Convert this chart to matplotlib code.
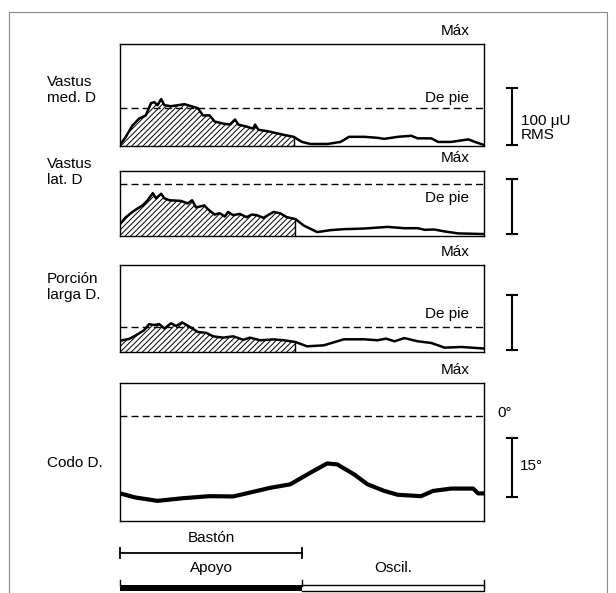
import numpy as np
import matplotlib.pyplot as plt

plt.rcParams['font.family'] = ['Liberation Sans', 'DejaVu Sans']
plt.rcParams['hatch.linewidth'] = 0.7

# Datos: % del ciclo de marcha y fraccion de la altura de cada panel
med_x = [0, 1.6, 3.4, 5.3, 7.1, 8.5, 9.4, 10.3, 11.3, 12.2, 14, 15.9, 17.7, 19.6,
         21.4, 22.8, 24.6, 26, 28.3, 30.2, 31.6, 32.5, 34.8, 36.6, 37.1, 38, 41.2,
         44.9, 47.7, 50, 52.3, 57, 60.6, 62.9, 67.1, 70.8, 72.6, 76.3, 80, 81.8,
         85.5, 87.4, 91, 95.7, 97.5, 100]
med_y = [0.01, 0.09, 0.2, 0.27, 0.3, 0.42, 0.43, 0.40, 0.46, 0.40, 0.39, 0.40, 0.41,
         0.39, 0.37, 0.30, 0.30, 0.24, 0.22, 0.21, 0.26, 0.21, 0.19, 0.17, 0.21, 0.16,
         0.14, 0.11, 0.09, 0.04, 0.02, 0.02, 0.04, 0.09, 0.09, 0.08, 0.07, 0.09, 0.10,
         0.075, 0.075, 0.04, 0.04, 0.065, 0.04, 0.01]

lat_x = [0, 1.6, 3.9, 6.2, 7.6, 9, 9.9, 11.3, 12.2, 13.6, 16.8, 18.6, 19.8, 20.9,
         23.2, 24.2, 26, 27.4, 28.8, 29.7, 31.1, 32.9, 34.8, 36.2, 37.6, 39.4, 42.2,
         44, 45.8, 48.2, 50.5, 54.2, 57.8, 61.5, 67.1, 73.5, 78.1, 81.8, 83.7, 86.3,
         89.2, 92.9, 100]
lat_y = [0.18, 0.29, 0.39, 0.47, 0.55, 0.66, 0.58, 0.65, 0.58, 0.55, 0.54, 0.50, 0.55,
         0.44, 0.47, 0.41, 0.33, 0.35, 0.30, 0.37, 0.32, 0.34, 0.29, 0.33, 0.32, 0.28,
         0.37, 0.35, 0.29, 0.26, 0.16, 0.06, 0.09, 0.105, 0.115, 0.14, 0.12, 0.12,
         0.095, 0.10, 0.07, 0.04, 0.03]

larga_x = [0, 2.5, 4.3, 6.6, 8, 9.4, 10.8, 12.2, 14, 15.4, 17.1, 19.1, 21.4, 23.7,
           25.6, 28.3, 31.1, 33.9, 35.7, 38.5, 42.2, 44.9, 48.2, 51.4, 56, 61.5,
           67.1, 70.8, 73.1, 75.4, 78.1, 81.8, 85.5, 89.2, 93.8, 100]
larga_y = [0.13, 0.15, 0.19, 0.25, 0.32, 0.31, 0.32, 0.27, 0.33, 0.30, 0.34, 0.29,
           0.23, 0.22, 0.18, 0.165, 0.18, 0.14, 0.165, 0.135, 0.145, 0.135, 0.115,
           0.065, 0.077, 0.146, 0.146, 0.135, 0.154, 0.123, 0.16, 0.123, 0.104, 0.05,
           0.058, 0.04]

codo_x = [0, 4.3, 10.3, 17.2, 24.6, 31.1, 35.7, 41.2, 46.8, 52.3, 56.9, 59.7, 64.3,
          68, 72.6, 76.3, 82.7, 86, 91, 97, 98.4, 100]
codo_y = [0.20, 0.17, 0.146, 0.165, 0.18, 0.178, 0.206, 0.24, 0.266, 0.35, 0.417,
          0.41, 0.338, 0.266, 0.218, 0.19, 0.18, 0.218, 0.235, 0.235, 0.2, 0.2]

nivel_pie = [0.37, 0.80, 0.29]   # linea "De pie" de cada musculo
texto_pie = [0.47, 0.58, 0.44]   # altura del texto "De pie"
nivel_0 = 0.76                   # 0 grados del codo
fin_baston = 48.2
fin_apoyo = 50

etiquetas = ['Vastus\nmed. D', 'Vastus\nlat. D', 'Porción\nlarga D.', 'Codo D.']

FS = 11
W, H = 616, 593
fig = plt.figure(figsize=(W / 100, H / 100), dpi=100)

# capa en pixeles para marco, escalas y barras de fase
over = fig.add_axes([0, 0, 1, 1])
over.set_xlim(0, W)
over.set_ylim(H, 0)
over.axis('off')

X0, X1 = 120, 484
paneles = [(44, 146), (171, 236), (265, 352), (383, 521)]


def panel(top, bot):
    ax = fig.add_axes([X0 / W, 1 - bot / H, (X1 - X0) / W, (bot - top) / H])
    ax.set_xlim(0, 100)
    ax.set_ylim(0, 1)
    ax.set_xticks([])
    ax.set_yticks([])
    for s in ax.spines.values():
        s.set_linewidth(1.0)
    return ax


series = [(med_x, med_y), (lat_x, lat_y), (larga_x, larga_y)]
for i, (xs, ys) in enumerate(series):
    top, bot = paneles[i]
    ax = panel(top, bot)
    ax.plot(xs, ys, color='black', lw=1.8)
    xs_a = np.array(xs)
    ys_a = np.array(ys)
    m = xs_a <= fin_baston
    ax.fill_between(xs_a[m], ys_a[m], 0, facecolor='white',
                    edgecolor='black', hatch='//////', lw=0)
    ax.plot([xs_a[m][-1]] * 2, [0, ys_a[m][-1]], color='black', lw=1)
    ax.axhline(nivel_pie[i], color='black', lw=1, dashes=(5, 3))
    ax.text(0.96, texto_pie[i], 'De pie', transform=ax.transAxes,
            ha='right', va='center', fontsize=FS)

ax4 = panel(*paneles[3])
ax4.plot(codo_x, codo_y, color='black', lw=3)
ax4.axhline(nivel_0, color='black', lw=1, dashes=(5, 3))

# Max
for top, bot in paneles:
    over.text(470, top - 13, 'Máx', ha='right', va='center', fontsize=FS)

# etiquetas izquierda
pos_lab = [90, 172, 287, 463]
for lab, y in zip(etiquetas, pos_lab):
    over.text(47, y, lab, ha='left', va='center', fontsize=FS, linespacing=1.15)

# barras de escala
for y0, y1 in [(88, 145), (179, 234), (295, 350), (438, 497)]:
    over.plot([512, 512], [y0, y1], color='black', lw=1.5)
    over.plot([507, 517], [y0, y0], color='black', lw=1.5)
    over.plot([507, 517], [y1, y1], color='black', lw=1.5)
over.text(521, 128, '100 μU\nRMS', ha='left', va='center', fontsize=FS,
          linespacing=1.0)
over.text(520, 466, '15°', ha='left', va='center', fontsize=FS)
over.text(497, 413, '0°', ha='left', va='center', fontsize=FS)

# fases de la marcha
xa = X0 + (X1 - X0) * fin_apoyo / 100
over.text((X0 + xa) / 2, 538, 'Bastón', ha='center', va='center', fontsize=FS)
over.plot([X0, xa], [553, 553], color='black', lw=1.3)
over.plot([X0, X0], [548, 558], color='black', lw=1.3)
over.plot([xa, xa], [548, 558], color='black', lw=1.3)
over.text((X0 + xa) / 2, 568, 'Apoyo', ha='center', va='center', fontsize=FS)
over.text((xa + X1) / 2, 568, 'Oscil.', ha='center', va='center', fontsize=FS)
over.fill_between([X0, xa], 585, 591, color='black', lw=0)
over.plot([xa, X1, X1, xa], [585, 585, 591, 591], color='black', lw=1)
for xt in (X0, xa, X1):
    over.plot([xt, xt], [580, 586], color='black', lw=1)

# marco exterior
over.plot([9, 9, 607, 607], [H, 12, 12, H], color='#888888', lw=0.8)

fig.savefig('out.png', dpi=100)
